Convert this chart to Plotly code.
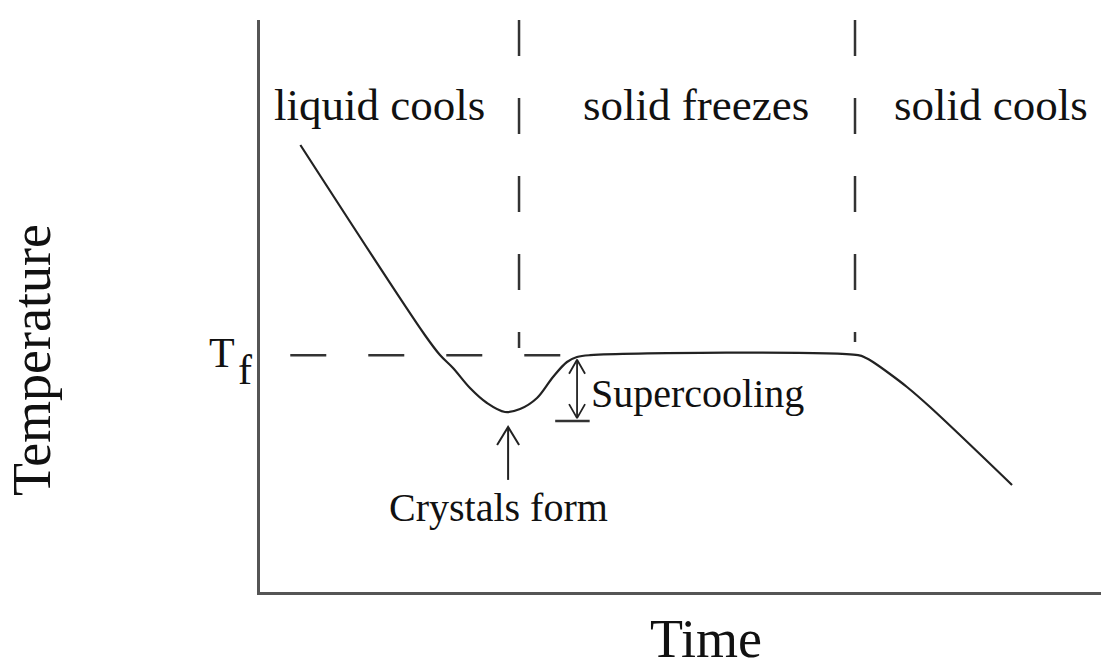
import plotly.graph_objects as go

# ---------------- data (arbitrary time / temperature units) ----------------
time = [4.8, 19.6, 21.4, 22.95, 24.97, 26.99, 29.13, 30.92, 32.94, 34.84, 36.5,
        37.69, 39.24, 71.11, 72.06, 72.89, 74.91, 76.93, 79.67, 89.42]
temperature = [78.15, 44.93, 41.43, 39.16, 35.66, 33.04, 31.47, 31.99, 33.92, 37.59,
               40.21, 41.08, 41.4, 41.4, 40.91, 40.21, 38.11, 35.84, 32.34, 18.71]

T_f = 41.4
tf_line_x = [3.6, 36.9]

phase_bounds = [30.8, 70.75]
phase_bound_bottom = [42.66, 43.7]
phase_top = 100

phase_labels = ["liquid cools", "solid freezes", "solid cools"]
phase_label_x = [14.15, 51.9, 86.9]
phase_label_y = 85.14

supercool_x = 37.7
supercool_top = 40.6
supercool_bottom = 30.4
supercool_bar_x = [35.1, 39.2]
supercool_bar_y = 29.9

crystal_x = 29.5
crystal_tip = 28.85
crystal_tail = 19.6

X_RANGE = [0, 100]
Y_RANGE = [0, 100]

# ---------------- layout geometry ----------------
W, H = 1101, 671
ML, MR, MT, MB = 260, 0, 20, 79
px_x = (W - ML - MR) / (X_RANGE[1] - X_RANGE[0])
px_y = (H - MT - MB) / (Y_RANGE[1] - Y_RANGE[0])


def to_paper_x(v):
    return (v - X_RANGE[0]) / (X_RANGE[1] - X_RANGE[0])


def to_paper_y(v):
    return (v - Y_RANGE[0]) / (Y_RANGE[1] - Y_RANGE[0])


FONT = "Liberation Serif, Times New Roman, serif"
LINE = "#222222"
DASH = "36px,42px"

fig = go.Figure()

# main cooling curve
fig.add_trace(go.Scatter(x=time, y=temperature, mode="lines",
                         line=dict(color=LINE, width=2.2, shape="spline", smoothing=1.0),
                         hoverinfo="skip", showlegend=False))

# Tf dashed line
fig.add_trace(go.Scatter(x=tf_line_x, y=[T_f, T_f], mode="lines",
                         line=dict(color="#333333", width=2.5, dash=DASH),
                         hoverinfo="skip", showlegend=False))

# phase boundaries
for xb, yb in zip(phase_bounds, phase_bound_bottom):
    fig.add_trace(go.Scatter(x=[xb, xb], y=[phase_top, yb], mode="lines",
                             line=dict(color="#333333", width=2.5, dash=DASH),
                             hoverinfo="skip", showlegend=False))


def v_head(x, y, direction, length_px, half_px):
    """open V arrow head at (x, y) pointing up (+1) or down (-1)"""
    dy = length_px / px_y * direction
    dx = half_px / px_x
    return [x - dx, x, x + dx], [y - dy, y, y - dy]


# supercooling double arrow
fig.add_trace(go.Scatter(x=[supercool_x, supercool_x], y=[supercool_bottom, supercool_top],
                         mode="lines", line=dict(color=LINE, width=1.8),
                         hoverinfo="skip", showlegend=False))
for yy, d in [(supercool_top, 1), (supercool_bottom, -1)]:
    hx, hy = v_head(supercool_x, yy, d, 14, 8)
    fig.add_trace(go.Scatter(x=hx, y=hy, mode="lines", line=dict(color=LINE, width=1.8),
                             hoverinfo="skip", showlegend=False))
fig.add_trace(go.Scatter(x=supercool_bar_x, y=[supercool_bar_y] * 2, mode="lines",
                         line=dict(color="#333333", width=2.5),
                         hoverinfo="skip", showlegend=False))

# crystals form arrow
fig.add_trace(go.Scatter(x=[crystal_x, crystal_x], y=[crystal_tail, crystal_tip],
                         mode="lines", line=dict(color=LINE, width=2),
                         hoverinfo="skip", showlegend=False))
hx, hy = v_head(crystal_x, crystal_tip, 1, 18, 11)
fig.add_trace(go.Scatter(x=hx, y=hy, mode="lines", line=dict(color=LINE, width=2),
                         hoverinfo="skip", showlegend=False))

# ---------------- text ----------------
TXT = "#111111"
ann = []
for lab, lx in zip(phase_labels, phase_label_x):
    ann.append(dict(x=lx, y=phase_label_y, text=lab, showarrow=False,
                    xanchor="center", yanchor="middle",
                    font=dict(family=FONT, size=45, color=TXT)))
ann.append(dict(x=supercool_x + 1.45, y=34.79, text="Supercooling", showarrow=False,
                xanchor="left", yanchor="middle",
                font=dict(family=FONT, size=40, color=TXT)))
ann.append(dict(x=crystal_x - 1.1, y=14.69, text="Crystals form", showarrow=False,
                xanchor="center", yanchor="middle",
                font=dict(family=FONT, size=40, color=TXT)))
# T_f label (outside the plotting area -> paper coordinates)
ann.append(dict(xref="paper", yref="paper", x=to_paper_x(-4.5), y=to_paper_y(41.85),
                text="T", showarrow=False, xanchor="center", yanchor="middle",
                font=dict(family=FONT, size=42, color=TXT)))
ann.append(dict(xref="paper", yref="paper", x=to_paper_x(-1.78), y=to_paper_y(38.8),
                text="f", showarrow=False, xanchor="center", yanchor="middle",
                font=dict(family=FONT, size=42, color=TXT)))
# axis titles
ann.append(dict(xref="paper", yref="paper", x=to_paper_x(53.0), y=to_paper_y(-8.3),
                text="Time", showarrow=False, xanchor="center", yanchor="middle",
                font=dict(family=FONT, size=54, color=TXT)))
ann.append(dict(xref="paper", yref="paper", x=to_paper_x(-27.1), y=to_paper_y(40.56),
                text="Temperature", showarrow=False, textangle=-90,
                xanchor="center", yanchor="middle",
                font=dict(family=FONT, size=54, color=TXT)))

axis_common = dict(showline=True, linewidth=3, linecolor="#555555", showgrid=False,
                   zeroline=False, showticklabels=False, ticks="", mirror=False,
                   fixedrange=True)

fig.update_layout(
    width=W, height=H,
    margin=dict(l=ML, r=MR, t=MT, b=MB, pad=0),
    paper_bgcolor="white", plot_bgcolor="white",
    xaxis=dict(range=X_RANGE, **axis_common),
    yaxis=dict(range=Y_RANGE, **axis_common),
    annotations=ann,
    showlegend=False,
)

fig.write_html("out.html", config={"displayModeBar": False},
               post_script="document.body.style.margin='0';")
